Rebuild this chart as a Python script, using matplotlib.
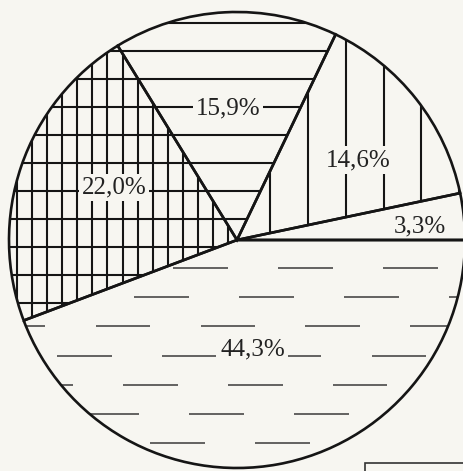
import numpy as np
import matplotlib
matplotlib.use('Agg')
import matplotlib.pyplot as plt
from matplotlib.collections import LineCollection
from matplotlib.patches import Rectangle

# shares of the pie, counter-clockwise from 3 o'clock
labels = ['3,3%', '14,6%', '15,9%', '22,0%', '44,3%']
shares = [3.3, 14.6, 15.9, 22.0, 44.3]

bg = '#f7f6f1'
ink = '#151515'

fig = plt.figure(figsize=(4.64, 4.71), dpi=100, facecolor=bg)
# circle centre ~ (237, 240) px, radius ~ 228 px
ax = fig.add_axes([9 / 464, 3 / 471, 456 / 464, 456 / 471])
ax.set_facecolor(bg)

wedges, _ = ax.pie(shares, startangle=0, counterclock=True, radius=1,
                   colors=[bg] * len(shares),
                   wedgeprops=dict(edgecolor=ink, linewidth=1.9))
for w in wedges:
    w.set_zorder(3)
    w.set_facecolor('none')

ax.set_xlim(-1, 1)
ax.set_ylim(-1, 1)
ax.set_aspect('equal')
ax.axis('off')


def hatch(wedge, segs, lw=1.5, color=ink):
    lc = LineCollection(segs, colors=color, linewidths=lw, zorder=2)
    ax.add_collection(lc)
    lc.set_clip_path(wedge)


# horizontal lines shared by 15,9% and 22,0%
h_lines = [[(-1.1, y), (1.1, y)] for y in 0.092 + 0.123 * np.arange(-4, 9)]
hatch(wedges[2], h_lines)
hatch(wedges[3], h_lines)

# sparse verticals in 14,6%
v_sparse = [[(x, -1.1), (x, 1.1)] for x in 0.145 + 0.166 * np.arange(0, 6)]
hatch(wedges[1], v_sparse)

# dense verticals in 22,0%
v_dense = [[(x, -1.1), (x, 1.1)] for x in -0.04 - 0.066 * np.arange(-2, 16)]
hatch(wedges[3], v_dense)

# short dashes in 44,3%
dashes = []
period, dash = 0.46, 0.24
for k in range(8):
    y = -(0.123 + 0.128 * k)
    off = (k * 0.29) % period
    for x0 in np.arange(-1.2 + off, 1.1, period):
        dashes.append([(x0, y), (x0 + dash, y)])
hatch(wedges[4], dashes, lw=1.1, color='#3a3a3a')

# labels
label_pos = [(0.80, 0.06), (0.53, 0.35), (-0.04, 0.575), (-0.54, 0.23), (0.07, -0.48)]
for lab, (x, y) in zip(labels, label_pos):
    ax.text(x, y, lab, ha='center', va='center', fontsize=18,
            family='Liberation Serif', color='#222222', zorder=2.5,
            bbox=dict(facecolor=bg, edgecolor='none', pad=2.0))

# corner of a box cut off at the bottom right
fig.add_artist(Rectangle((365 / 464, -0.05), 0.3, 0.05 + 8 / 471,
                         transform=fig.transFigure, facecolor='none',
                         edgecolor='#333333', linewidth=1.2))

fig.savefig('out.png', dpi=100, facecolor=bg)
